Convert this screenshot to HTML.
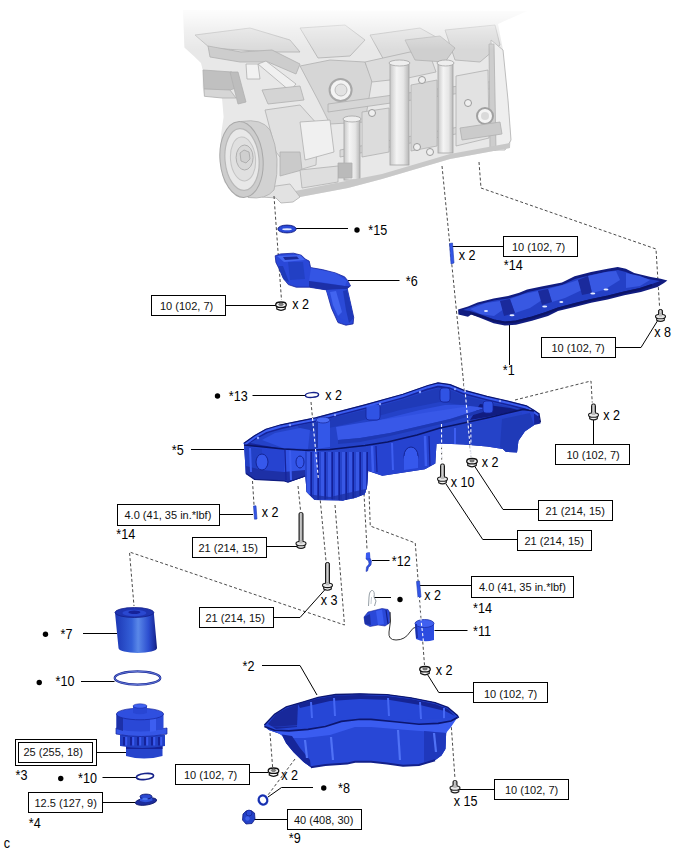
<!DOCTYPE html>
<html><head><meta charset="utf-8"><style>
html,body{margin:0;padding:0;background:#fff;}
body{width:688px;height:852px;overflow:hidden;}
svg{display:block;}
.bx{fill:#fff;stroke:#000;stroke-width:1;}
.bt{font-family:"Liberation Sans",sans-serif;font-size:11px;fill:#111;}
.lt{font-family:"Liberation Sans",sans-serif;font-size:14px;fill:#000;}
.ln{fill:none;stroke:#000;stroke-width:1;}
.ds{fill:none;stroke:#4a4a4a;stroke-width:1;stroke-dasharray:3 2.2;}
</style></head><body>
<svg width="688" height="852" viewBox="0 0 688 852">
<defs>
<linearGradient id="gshank" x1="0" x2="1" y1="0" y2="0"><stop offset="0" stop-color="#666"/><stop offset="0.45" stop-color="#d8d8d8"/><stop offset="1" stop-color="#6a6a6a"/></linearGradient>
<linearGradient id="gpil" x1="0" x2="1" y1="0" y2="0"><stop offset="0" stop-color="#c8c8c8"/><stop offset="0.35" stop-color="#f4f4f4"/><stop offset="0.7" stop-color="#e6e6e6"/><stop offset="1" stop-color="#b8b8b8"/></linearGradient>
<linearGradient id="gfade" x1="0" x2="0" y1="0" y2="1"><stop offset="0" stop-color="#fff" stop-opacity="0.95"/><stop offset="0.25" stop-color="#fff" stop-opacity="0.7"/><stop offset="0.55" stop-color="#fff" stop-opacity="0.35"/><stop offset="1" stop-color="#fff" stop-opacity="0"/></linearGradient>
<linearGradient id="gcyl" x1="0" x2="1" y1="0" y2="0"><stop offset="0" stop-color="#1c36b4"/><stop offset="0.4" stop-color="#3460d8"/><stop offset="0.55" stop-color="#5a88e8"/><stop offset="0.8" stop-color="#2c4ed0"/><stop offset="0.95" stop-color="#1a2c9c"/><stop offset="1" stop-color="#0c1670"/></linearGradient>
<linearGradient id="gblue" x1="0" x2="0" y1="0" y2="1"><stop offset="0" stop-color="#2f4fe0"/><stop offset="1" stop-color="#1a32b8"/></linearGradient>
</defs>

<g id="engine">
<path d="M183.0,10.0 L527.0,11.0 L498.0,24.0 L503.0,50.0 L508.0,100.0 L511.0,140.0 L510.0,148.0 L450.0,159.0 L382.0,179.0 L348.0,188.0 L300.0,197.0 L293.0,202.0 L281.0,203.0 L276.0,198.0 L262.0,197.0 L250.0,197.0 L235.0,192.0 L224.0,182.0 L220.0,160.0 L221.0,135.0 L223.6,117.0 L222.0,98.0 L204.4,96.3 L202.7,87.6 L202.7,70.0 L201.0,63.0 L194.0,56.2 L184.4,47.4 Z" fill="#e8e8e8" />
<path d="M195.0,35.0 L250.0,28.0 L290.0,40.0 L300.0,52.0 L272.0,52.0 L240.0,50.0 L210.0,48.0 Z" fill="#dadada" stroke="#b0b0b0" stroke-width="0.8"/>
<path d="M300.0,28.0 L345.0,25.0 L365.0,40.0 L350.0,56.0 L318.0,58.0 Z" fill="#dedede" stroke="#b0b0b0" stroke-width="0.8"/>
<path d="M370.0,35.0 L420.0,28.0 L445.0,42.0 L425.0,60.0 L385.0,62.0 Z" fill="#dcdcdc" stroke="#b0b0b0" stroke-width="0.8"/>
<path d="M445.0,30.0 L495.0,25.0 L500.0,45.0 L480.0,62.0 L455.0,60.0 Z" fill="#d8d8d8" stroke="#b0b0b0" stroke-width="0.8"/>
<path d="M208.0,46.0 L241.0,52.0 L272.0,50.0 L300.0,64.0 L296.0,74.0 L268.0,62.0 L240.0,62.0 L210.0,57.0 Z" fill="#cdcdcd" stroke="#b0b0b0" stroke-width="0.8"/>
<path d="M203.0,70.0 L232.0,72.0 L236.0,88.0 L230.0,90.0 L204.0,89.0 Z" fill="#c0c0c0" stroke="#b0b0b0" stroke-width="0.8"/>
<path d="M204.0,89.0 L230.0,90.0 L236.0,98.0 L222.0,98.0 L204.4,96.3 Z" fill="#d6d6d6" stroke="#b0b0b0" stroke-width="0.8"/>
<path d="M230.0,72.0 L238.0,72.0 L246.0,102.0 L238.0,104.0 Z" fill="#bdbdbd" stroke="#b0b0b0" stroke-width="0.8"/>
<path d="M246.0,64.0 L258.0,64.0 L260.0,79.0 L247.0,79.0 Z" fill="#f2f2f2" stroke="#b0b0b0" stroke-width="0.8"/>
<path d="M258.0,64.0 L266.0,61.0 L296.0,84.0 L290.0,91.0 Z" fill="#f0f0f0" stroke="#b0b0b0" stroke-width="0.8"/>
<path d="M262.0,90.0 L300.0,86.0 L304.0,100.0 L268.0,104.0 Z" fill="#d4d4d4" stroke="#b0b0b0" stroke-width="0.8"/>
<path d="M300.0,66.0 L330.0,60.0 L365.0,62.0 L372.0,80.0 L365.0,122.0 L330.0,124.0 L318.0,100.0 Z" fill="#d6d6d6" stroke="#b0b0b0" stroke-width="0.8"/>
<circle cx="340.6" cy="90" r="11" fill="#f3f3f3" stroke="#a8a8a8" stroke-width="2"/>
<circle cx="341" cy="90" r="6" fill="#e2e2e2" stroke="#bdbdbd" stroke-width="1"/>
<path d="M365.0,62.0 L410.0,52.0 L430.0,55.0 L436.0,72.0 L408.0,78.0 L372.0,82.0 Z" fill="#dcdcdc" stroke="#b0b0b0" stroke-width="0.8"/>
<path d="M405.0,40.0 L440.0,36.0 L455.0,48.0 L445.0,62.0 L415.0,60.0 Z" fill="#cfcfcf" stroke="#b0b0b0" stroke-width="0.8"/>
<path d="M328.0,104.0 L502.0,80.0 L503.0,87.0 L328.0,112.0 Z" fill="#d6d6d6" stroke="#b0b0b0" stroke-width="0.8"/>
<path d="M340.0,150.0 L505.0,118.0 L506.0,124.0 L340.0,157.0 Z" fill="#dadada" stroke="#b0b0b0" stroke-width="0.8"/>
<path d="M362.0,112.0 L389.0,108.0 L389.0,152.0 L362.0,157.0 Z" fill="#dcdcdc" stroke="#b0b0b0" stroke-width="0.8"/>
<path d="M411.0,85.0 L437.0,80.0 L437.0,146.0 L411.0,151.0 Z" fill="#d6d6d6" stroke="#b0b0b0" stroke-width="0.8"/>
<path d="M456.0,76.0 L488.0,70.0 L489.0,138.0 L456.0,146.0 Z" fill="#e2e2e2" stroke="#b0b0b0" stroke-width="0.8"/>
<rect x="344" y="119" width="16" height="61" fill="url(#gpil)" stroke="#a4a4a4" stroke-width="0.8"/>
<ellipse cx="352.0" cy="119" rx="9.0" ry="3" fill="#eeeeee" stroke="#a4a4a4" stroke-width="0.8"/>
<rect x="390" y="63" width="19" height="102" fill="url(#gpil)" stroke="#a4a4a4" stroke-width="0.8"/>
<ellipse cx="399.5" cy="63" rx="10.5" ry="3" fill="#eeeeee" stroke="#a4a4a4" stroke-width="0.8"/>
<rect x="438" y="63" width="15" height="90" fill="url(#gpil)" stroke="#a4a4a4" stroke-width="0.8"/>
<ellipse cx="445.5" cy="63" rx="8.5" ry="3" fill="#eeeeee" stroke="#a4a4a4" stroke-width="0.8"/>
<path d="M491.0,40.0 L503.0,50.0 L508.0,100.0 L511.0,140.0 L505.0,150.0 L493.0,150.0 Z" fill="#eeeeee" stroke="#b0b0b0" stroke-width="0.8"/>
<path d="M489.0,44.0 L494.0,44.0 L496.0,150.0 L490.0,150.0 Z" fill="#cdcdcd" stroke="#b0b0b0" stroke-width="0.8"/>
<circle cx="485" cy="116" r="8" fill="#f4f4f4" stroke="#a0a0a0" stroke-width="2"/>
<circle cx="485" cy="116" r="4" fill="#dadada"/>
<path d="M460.0,128.0 L500.0,122.0 L502.0,134.0 L462.0,140.0 Z" fill="#cbcbcb" stroke="#b0b0b0" stroke-width="0.8"/>
<circle cx="372" cy="113" r="3.5" fill="#efefef" stroke="#9a9a9a" stroke-width="1"/>
<circle cx="422" cy="80" r="3.5" fill="#efefef" stroke="#9a9a9a" stroke-width="1"/>
<circle cx="468" cy="103" r="3.5" fill="#efefef" stroke="#9a9a9a" stroke-width="1"/>
<circle cx="417" cy="147" r="3.5" fill="#efefef" stroke="#9a9a9a" stroke-width="1"/>
<circle cx="430" cy="152" r="3.5" fill="#efefef" stroke="#9a9a9a" stroke-width="1"/>
<circle cx="330" cy="178" r="3.5" fill="#efefef" stroke="#9a9a9a" stroke-width="1"/>
<path d="M265.0,110.0 L300.0,105.0 L318.0,125.0 L316.0,165.0 L292.0,172.0 L276.0,152.0 Z" fill="#e0e0e0" stroke="#b0b0b0" stroke-width="0.8"/>
<path d="M300.0,122.0 L330.0,120.0 L334.0,152.0 L305.0,160.0 Z" fill="#f0f0f0" stroke="#b0b0b0" stroke-width="0.8"/>
<path d="M280.0,152.0 L300.0,152.0 L302.0,170.0 L280.0,176.0 Z" fill="#cacaca" stroke="#b0b0b0" stroke-width="0.8"/>
<path d="M338.0,163.0 L352.0,163.0 L352.0,178.0 L338.0,178.0 Z" fill="#bababa" stroke="#b0b0b0" stroke-width="0.8"/>
<path d="M300.0,170.0 L338.0,166.0 L338.0,182.0 L302.0,188.0 Z" fill="#dedede" stroke="#b0b0b0" stroke-width="0.8"/>
<path d="M290.0,192.0 L382.0,174.0 L450.0,154.0 L510.0,143.0 L510.0,148.0 L450.0,159.0 L382.0,179.0 L348.0,188.0 L300.0,197.0 Z" fill="#c8c8c8" />
<path d="M262.0,188.0 L290.0,184.0 L300.0,197.0 L293.0,202.0 L281.0,203.0 L276.0,198.0 L262.0,197.0 Z" fill="#e2e2e2" stroke="#b0b0b0" stroke-width="0.8"/>
<path d="M241,121.5 Q262,118 270,130 Q282,158 274,190 Q266,200 248,197.5 Z" fill="#d2d2d2" stroke="#b0b0b0" stroke-width="0.8"/>
<ellipse cx="241.5" cy="159.5" rx="21.5" ry="38" fill="#cdcdcd" stroke="#a8a8a8" stroke-width="1" transform="rotate(-5 241.5 159.5)"/>
<ellipse cx="242" cy="159.5" rx="17" ry="31" fill="#e8e8e8" stroke="#b8b8b8" stroke-width="1.2" transform="rotate(-5 242 159.5)"/>
<ellipse cx="243" cy="159" rx="12.5" ry="22" fill="#e0e0e0" stroke="#c4c4c4" stroke-width="1" transform="rotate(-5 243 159)"/>
<ellipse cx="244.6" cy="157.5" rx="8.5" ry="12.5" fill="#d8d8d8" stroke="#b0b0b0" stroke-width="1"/>
<path d="M240,153 L244,150 L249,152 L250,159 L246,163 L241,161 Z" fill="#cfcfcf" stroke="#a4a4a4" stroke-width="0.8"/>
<rect x="170" y="0" width="370" height="9" fill="#fff"/>
<rect x="170" y="8" width="370" height="42" fill="url(#gfade)"/>
</g>
<path d="M274,196 L281.5,300" class="ds"/>
<path d="M442,166 L471,457" class="ds"/>
<path d="M479,162 L481,188 L656,249 L659.5,306" class="ds"/>
<path d="M311,402 L326,561" class="ds"/>
<path d="M252.5,481 L254,505" class="ds"/>
<path d="M441.5,441 L441.7,462" class="ds"/>
<path d="M298,486 L300.5,510" class="ds"/>
<path d="M335,505 L344.5,625 L129.5,552 L134,606" class="ds"/>
<path d="M364,493.5 L367,549" class="ds"/>
<path d="M369,491 L370.25,526 L415.25,543 L424.5,665" class="ds"/>
<path d="M515,400 L591,381 L592.25,402.5" class="ds"/>
<path d="M270,733 L272.6,767" class="ds"/>
<path d="M295,759 L268,795" class="ds"/>
<path d="M451,722 L455,779" class="ds"/>
<path d="M296,228.5 L348,228.5" class="ln"/>
<path d="M348,280.5 L399.5,280.5" class="ln"/>
<path d="M226,305.5 L277,305.5" class="ln"/>
<path d="M452,246.5 L503,246.5" class="ln"/>
<path d="M509.5,325 L509.5,365" class="ln"/>
<path d="M615,347.5 L641,347.5 L658,320" class="ln"/>
<path d="M252.5,395.5 L305,395.5" class="ln"/>
<path d="M191,449.5 L244,449.5" class="ln"/>
<path d="M593.5,419 L593.5,444" class="ln"/>
<path d="M446,484 L482.75,539.5 L517.5,539.5" class="ln"/>
<path d="M474.5,466 L503,509.5 L538,509.5" class="ln"/>
<path d="M219.5,514.5 L253,514.5" class="ln"/>
<path d="M266,546.5 L297.5,546.5" class="ln"/>
<path d="M372,560.5 L389.5,560.5" class="ln"/>
<path d="M374,597.5 L391,597.5" class="ln"/>
<path d="M419.5,585.5 L472,585.5" class="ln"/>
<path d="M434.5,630.5 L467.5,630.5" class="ln"/>
<path d="M325.75,588.75 L300,617.5 L274,617.5" class="ln"/>
<path d="M83,633.5 L117,633.5" class="ln"/>
<path d="M81,681.5 L114.5,681.5" class="ln"/>
<path d="M262,665.5 L300,665.5 L317,695" class="ln"/>
<path d="M427,673.75 L438.75,692.5 L473,692.5" class="ln"/>
<path d="M96.5,752.5 L126,752.5" class="ln"/>
<path d="M102.5,777.5 L136,777.5" class="ln"/>
<path d="M102.5,802.5 L135,802.5" class="ln"/>
<path d="M249.5,772.5 L268,772.5" class="ln"/>
<path d="M268,797 L281.5,787.5 L313,787.5" class="ln"/>
<path d="M252,819.5 L287.5,819.5" class="ln"/>
<path d="M457,789.5 L494,789.5" class="ln"/>
<rect x="151.5" y="295.5" width="74" height="20" class="bx"/>
<text x="160" y="309.5" class="bt">10 (102, 7)</text>
<rect x="503.5" y="236.5" width="74" height="20" class="bx"/>
<text x="512" y="251" class="bt">10 (102, 7)</text>
<rect x="541.5" y="337.5" width="74" height="20" class="bx"/>
<text x="551.5" y="352" class="bt">10 (102, 7)</text>
<rect x="555.5" y="444.5" width="74" height="20" class="bx"/>
<text x="566.5" y="459" class="bt">10 (102, 7)</text>
<rect x="538.5" y="500.5" width="74" height="20" class="bx"/>
<text x="545.5" y="514.5" class="bt">21 (214, 15)</text>
<rect x="517.5" y="530.5" width="74" height="20" class="bx"/>
<text x="524.5" y="544.5" class="bt">21 (214, 15)</text>
<rect x="117.5" y="504.5" width="102" height="21" class="bx"/>
<text x="124.5" y="519" class="bt">4.0 (41, 35 in.*lbf)</text>
<rect x="192.5" y="537.5" width="74" height="20" class="bx"/>
<text x="198.5" y="552" class="bt">21 (214, 15)</text>
<rect x="199.5" y="607.5" width="74" height="20" class="bx"/>
<text x="205.5" y="622" class="bt">21 (214, 15)</text>
<rect x="471.5" y="576.5" width="102" height="21" class="bx"/>
<text x="479" y="590.5" class="bt">4.0 (41, 35 in.*lbf)</text>
<rect x="473.5" y="682.5" width="74" height="20" class="bx"/>
<text x="484" y="697.5" class="bt">10 (102, 7)</text>
<rect x="15.5" y="739.5" width="81" height="26" class="bx"/>
<rect x="18.5" y="742.5" width="74" height="20" class="bx"/>
<text x="23.5" y="756" class="bt">25 (255, 18)</text>
<rect x="28.5" y="792.5" width="74" height="20" class="bx"/>
<text x="34.5" y="807" class="bt">12.5 (127, 9)</text>
<rect x="175.5" y="764.5" width="74" height="20" class="bx"/>
<text x="184" y="778.5" class="bt">10 (102, 7)</text>
<rect x="287.5" y="809.5" width="74" height="20" class="bx"/>
<text x="294" y="823.5" class="bt">40 (408, 30)</text>
<rect x="494.5" y="779.5" width="74" height="20" class="bx"/>
<text x="505" y="794" class="bt">10 (102, 7)</text>
<circle cx="357" cy="230" r="2.7" fill="#000"/>
<text transform="translate(368.3 235) scale(0.9 1)" class="lt">*15</text>
<text transform="translate(405.8 285.75) scale(0.9 1)" class="lt">*6</text>
<text transform="translate(292.3 309) scale(0.9 1)" class="lt">x 2</text>
<text transform="translate(458.8 259.5) scale(0.9 1)" class="lt">x 2</text>
<text transform="translate(503.8 270) scale(0.9 1)" class="lt">*14</text>
<text transform="translate(654.3 336.5) scale(0.9 1)" class="lt">x 8</text>
<text transform="translate(502.8 375) scale(0.9 1)" class="lt">*1</text>
<circle cx="217.5" cy="396" r="2.7" fill="#000"/>
<text transform="translate(228.8 400.5) scale(0.9 1)" class="lt">*13</text>
<text transform="translate(325.3 400) scale(0.9 1)" class="lt">x 2</text>
<text transform="translate(171.8 454.5) scale(0.9 1)" class="lt">*5</text>
<text transform="translate(603.3 420) scale(0.9 1)" class="lt">x 2</text>
<text transform="translate(481.8 467) scale(0.9 1)" class="lt">x 2</text>
<text transform="translate(450.8 486.5) scale(0.9 1)" class="lt">x 10</text>
<text transform="translate(261.8 517) scale(0.9 1)" class="lt">x 2</text>
<text transform="translate(116.3 538.5) scale(0.9 1)" class="lt">*14</text>
<text transform="translate(391.8 565.75) scale(0.9 1)" class="lt">*12</text>
<text transform="translate(320.8 604.5) scale(0.9 1)" class="lt">x 3</text>
<circle cx="400" cy="599.5" r="2.7" fill="#000"/>
<text transform="translate(424.3 599.5) scale(0.9 1)" class="lt">x 2</text>
<text transform="translate(473.05 612.5) scale(0.9 1)" class="lt">*14</text>
<circle cx="45.5" cy="634.25" r="2.7" fill="#000"/>
<text transform="translate(60.55 638.75) scale(0.9 1)" class="lt">*7</text>
<text transform="translate(473.05 636.25) scale(0.9 1)" class="lt">*11</text>
<text transform="translate(242.55 671.25) scale(0.9 1)" class="lt">*2</text>
<text transform="translate(435.8 675) scale(0.9 1)" class="lt">x 2</text>
<circle cx="39.25" cy="682.5" r="2.7" fill="#000"/>
<text transform="translate(55.55 686.25) scale(0.9 1)" class="lt">*10</text>
<text transform="translate(15.55 779.75) scale(0.9 1)" class="lt">*3</text>
<circle cx="60.75" cy="778.5" r="2.7" fill="#000"/>
<text transform="translate(78.05 782.75) scale(0.9 1)" class="lt">*10</text>
<text transform="translate(281.3 779.75) scale(0.9 1)" class="lt">x 2</text>
<circle cx="323.75" cy="788" r="2.7" fill="#000"/>
<text transform="translate(338.05 792.5) scale(0.9 1)" class="lt">*8</text>
<text transform="translate(453.8 806) scale(0.9 1)" class="lt">x 15</text>
<text transform="translate(28.8 828) scale(0.9 1)" class="lt">*4</text>
<text transform="translate(288.8 843.4) scale(0.9 1)" class="lt">*9</text>
<text transform="translate(3.8 848) scale(0.9 1)" class="lt">c</text>
<ellipse cx="287" cy="229" rx="9.2" ry="3.9" fill="#2a4ad8" stroke="#101a80" stroke-width="0.9"/>
<ellipse cx="287" cy="229.3" rx="4.8" ry="1" fill="#dfe6ff"/>
<path d="M275.2,255.8 L280.5,253.9 L293.5,253.2 L301.4,255.2 L305.3,259.1 L309.2,261.1 L310.6,267.6 L322.3,269.6 L335.4,272.9 L344.6,276.8 L347.8,280.7 L350.5,285.9 L347.2,288.6 L351.1,305.6 L353.7,317.3 L353.1,323.9 L345.9,325.2 L338.0,322.6 L331.5,308.2 L326.3,289.9 L309.2,287.2 L296.2,287.2 L288.3,284.6 L283.1,278.1 L279.8,270.2 L275.9,262.4 Z" fill="#2a48d8" stroke="#15229a" stroke-width="0.8"/>
<path d="M288.0,262.0 L303.0,262.0 L305.0,279.0 L290.0,280.0 Z" fill="#2240c4" />
<path d="M277.0,256.0 L300.0,255.0 L305.0,260.0 L284.0,262.0 Z" fill="#4466f0" />
<path d="M283.0,257.0 L297.0,256.5 L299.0,259.0 L285.0,260.0 Z" fill="#1a2a9a" />
<path d="M311.0,268.0 L335.0,273.0 L347.0,281.0 L345.0,286.0 L320.0,282.0 L309.0,281.0 Z" fill="#3455e4" />
<path d="M309.0,281.0 L345.0,286.0 L350.0,286.0 L347.0,289.0 L326.0,290.0 L309.0,287.0 Z" fill="#1c30a8" />
<path d="M326.0,290.0 L347.0,289.0 L351.0,305.0 L353.0,317.0 L349.0,322.0 L340.0,318.0 L332.0,306.0 Z" fill="#2b4ad8" />
<path d="M330.0,292.0 L336.0,291.0 L342.0,312.0 L338.0,316.0 L333.0,305.0 Z" fill="#4264f0" />
<path d="M343.0,291.0 L347.0,290.0 L351.0,306.0 L353.5,318.0 L349.0,323.0 L346.0,310.0 Z" fill="#1e38b8" />
<path d="M278.0,266.0 L283.0,266.0 L289.0,282.0 L284.0,280.0 Z" fill="#1f3ab8" />
<path d="M449.5,243.5 L452.5,243 L454,263 L451,264 Z" fill="#3356e8" stroke="#1e3ab0" stroke-width="0.6"/>
<path d="M458.1,309.6 L468.0,306.4 L477.6,302.4 L493.6,298.4 L508.0,296.0 L519.2,292.8 L527.1,289.6 L541.5,286.4 L562.0,282.4 L574.6,276.2 L591.1,272.1 L607.7,268.8 L617.7,267.1 L625.9,268.8 L634.2,272.9 L650.8,277.0 L660.7,278.7 L667.4,280.4 L664.0,282.9 L657.4,287.0 L640.9,292.0 L624.3,295.3 L607.7,299.4 L591.1,302.7 L574.6,306.9 L558.0,311.0 L548.0,316.0 L532.0,320.8 L516.0,324.8 L504.8,325.6 L493.6,323.2 L479.2,317.6 L471.2,314.4 L468.0,316.8 L458.4,314.4 Z" fill="#111c80" />
<path d="M463.0,310.0 L478.0,304.5 L494.0,300.5 L508.0,298.5 L520.0,295.0 L528.0,292.0 L542.0,289.0 L562.0,285.0 L575.0,279.0 L591.0,275.0 L608.0,271.5 L618.0,270.0 L626.0,272.0 L634.0,275.5 L651.0,279.5 L660.0,281.0 L652.0,284.0 L640.0,288.0 L624.0,291.5 L608.0,295.5 L591.0,299.0 L575.0,303.0 L558.0,307.5 L546.0,312.0 L532.0,316.5 L516.0,320.5 L505.0,321.5 L494.0,319.5 L480.0,314.0 L470.0,311.0 Z" fill="#2440c6" />
<path d="M470.0,309.0 L486.0,303.0 L500.0,301.0 L504.0,309.0 L494.0,316.0 L480.0,314.0 Z" fill="#3858e2" />
<path d="M510.0,299.0 L524.0,294.0 L538.0,291.0 L542.0,300.0 L530.0,308.0 L515.0,313.0 Z" fill="#3858e2" />
<path d="M548.0,289.0 L566.0,284.0 L578.0,280.0 L582.0,290.0 L565.0,298.0 L552.0,302.0 Z" fill="#3858e2" />
<path d="M588.0,276.0 L606.0,272.0 L616.0,271.0 L620.0,280.0 L604.0,290.0 L592.0,293.0 Z" fill="#3858e2" />
<path d="M626.0,273.0 L640.0,276.0 L650.0,280.0 L640.0,286.0 L626.0,288.0 Z" fill="#3858e2" />
<path d="M500.0,301.0 L510.0,299.0 L515.0,313.0 L504.0,316.0 Z" fill="#1a2a9c" />
<path d="M538.0,291.0 L548.0,289.0 L552.0,302.0 L542.0,305.0 Z" fill="#1a2a9c" />
<path d="M578.0,280.0 L588.0,276.0 L592.0,293.0 L582.0,295.0 Z" fill="#1a2a9c" />
<path d="M470,313 L494,320.5 L505,322.5 L516,321.5 L532,317.5 L546,313 L558,308.5 L575,304 L591,300 L608,296.5 L624,292.5 L640,289 L652,285" stroke="#0c1466" stroke-width="2" fill="none"/>
<ellipse cx="512" cy="315.2" rx="2.5" ry="1" fill="#e6ecff"/>
<ellipse cx="544.7" cy="306.4" rx="2.5" ry="1" fill="#e6ecff"/>
<ellipse cx="592.8" cy="293.6" rx="2.5" ry="1" fill="#e6ecff"/>
<ellipse cx="606" cy="289.5" rx="2.5" ry="1" fill="#e6ecff"/>
<ellipse cx="561.3" cy="301.9" rx="2.0" ry="1" fill="#e6ecff"/>
<ellipse cx="486" cy="311" rx="2.0" ry="1" fill="#e6ecff"/>
<path d="M244.0,444.5 L254.5,437.0 L266.0,430.5 L281.0,426.0 L298.0,422.5 L315.5,419.0 L340.0,412.5 L365.0,406.0 L403.0,395.5 L428.0,386.7 L438.0,384.0 L450.0,385.8 L463.5,391.3 L487.0,397.6 L510.6,403.0 L526.3,407.0 L534.2,411.8 L539.0,415.0 L540.5,423.5 L534.2,425.0 L524.8,431.4 L518.5,440.8 L517.0,452.6 L506.0,451.8 L502.8,449.0 L499.7,448.5 L487.0,446.5 L463.5,444.5 L440.0,443.5 L436.5,444.0 L435.3,463.4 L424.9,469.2 L382.3,475.7 L368.2,471.0 L367.0,487.0 L364.7,494.3 L342.7,500.5 L314.7,500.0 L306.6,492.0 L305.4,476.4 L288.0,482.2 L283.6,480.8 L254.5,479.3 L245.8,473.5 Z" fill="#15249a" />
<path d="M250.0,443.0 L258.0,438.0 L268.0,433.0 L282.0,429.0 L298.0,425.5 L316.0,422.0 L340.0,415.5 L365.0,409.0 L403.0,398.5 L428.0,390.0 L438.0,387.5 L450.0,389.0 L463.0,394.5 L487.0,400.5 L510.0,406.0 L528.0,411.0 L523.0,409.4 L487.0,418.0 L450.0,426.0 L440.0,428.0 L417.0,435.0 L387.6,442.0 L365.0,445.5 L330.0,449.5 L305.4,450.2 L283.6,449.0 Z" fill="#2442c8" />
<path d="M298.0,426.0 L340.0,416.0 L365.0,410.0 L403.0,399.5 L428.0,391.0 L438.0,388.5 L450.0,390.0 L463.0,395.5 L487.0,401.5 L510.0,407.0 L526.0,411.5 L500.0,411.0 L470.0,406.0 L440.0,402.0 L400.0,410.0 L360.0,421.0 L320.0,430.0 L300.0,432.0 Z" fill="#1f3ab8" />
<path d="M480.0,404.0 L510.0,408.0 L526.0,412.0 L523.0,409.4 L487.0,417.0 L470.0,420.0 Z" fill="#111c80" />
<path d="M345.0,428.0 L380.0,420.0 L420.0,410.0 L445.0,405.0 L465.0,405.0 L470.0,410.0 L440.0,416.0 L400.0,425.0 L360.0,434.0 L340.0,436.0 Z" fill="#3050e0" />
<path d="M262.0,440.0 L275.0,433.0 L300.0,428.0 L310.0,430.0 L308.0,449.0 L283.0,448.0 Z" fill="#2f50e0" />
<path d="M336.0,427.0 L360.0,423.0 L400.0,417.0 L430.0,412.0 L450.0,409.0 L470.0,406.0 L485.0,408.0 L450.0,419.0 L420.0,426.0 L390.0,433.0 L360.0,438.0 L338.0,440.0 Z" fill="#3858e8" />
<path d="M338.0,440.0 L360.0,438.0 L390.0,433.0 L420.0,426.0 L450.0,419.0 L485.0,408.0 L490.0,410.0 L450.0,422.0 L420.0,429.0 L390.0,436.0 L360.0,442.0 L338.0,444.0 Z" fill="#1e38b4" />
<rect x="366" y="404" width="14" height="16" rx="3" fill="#3053e4" stroke="#15249a" stroke-width="0.8"/>
<rect x="440" y="388" width="10" height="14" rx="3" fill="#3053e4" stroke="#15249a" stroke-width="0.8"/>
<rect x="483" y="401" width="10" height="12" rx="3" fill="#3053e4" stroke="#15249a" stroke-width="0.8"/>
<path d="M244,444.5 L254.5,437 L266,430.5 L281,426 L298,422.5 L315.5,419 L340,412.5 L365,406 L403,395.5 L428,386.7 L438,384 L450,385.8 L463.5,391.3 L487,397.6 L510.6,403 L526.3,407 L534.2,411.8 L539,415" stroke="#3a5cf0" stroke-width="3" fill="none"/>
<path d="M244,443.3 L254.5,435.8 L266,429.3 L281,424.8 L298,421.3 L315.5,417.8 L340,411.3 L365,404.8 L403,394.3 L428,385.5 L438,382.8 L450,384.6 L463.5,390.1 L487,396.40000000000003 L510.6,401.8 L526.3,405.8 L534.2,410.6 L539,413.8 L540.5,422.3" stroke="#0c1670" stroke-width="1.2" fill="none"/>
<circle cx="258" cy="438" r="1.2" fill="#8aa0ff"/>
<circle cx="290" cy="425" r="1.2" fill="#8aa0ff"/>
<circle cx="335" cy="415" r="1.2" fill="#8aa0ff"/>
<circle cx="380" cy="404" r="1.2" fill="#8aa0ff"/>
<circle cx="420" cy="392" r="1.2" fill="#8aa0ff"/>
<circle cx="455" cy="389" r="1.2" fill="#8aa0ff"/>
<circle cx="500" cy="401" r="1.2" fill="#8aa0ff"/>
<circle cx="530" cy="410" r="1.2" fill="#8aa0ff"/>
<path d="M244.0,445.0 L283.6,449.0 L305.4,450.2 L330.0,449.5 L365.0,445.5 L387.6,442.0 L417.0,435.0 L440.0,428.0 L450.0,426.0 L487.0,418.0 L523.0,409.4 L534.0,411.0 L534.2,425.0 L524.8,431.4 L518.5,440.8 L517.0,452.6 L506.0,451.8 L502.8,449.0 L499.7,448.5 L487.0,446.5 L463.5,444.5 L440.0,443.5 L436.5,444.0 L435.3,463.4 L424.9,469.2 L382.3,475.7 L368.2,471.0 L367.0,487.0 L364.7,494.3 L342.7,500.5 L314.7,500.0 L306.6,492.0 L305.4,476.4 L288.0,482.2 L283.6,480.8 L254.5,479.3 L245.8,473.5 Z" fill="#2643d0" />
<path d="M245.0,447.0 L262.0,449.0 L262.0,478.0 L246.0,473.0 Z" fill="#2240c4" />
<path d="M285.0,449.0 L305.0,450.0 L305.0,476.0 L288.0,482.0 L284.0,480.0 Z" fill="#3254e6" />
<path d="M440.0,428.0 L500.0,418.0 L522.0,412.0 L520.0,425.0 L500.0,447.0 L463.0,444.0 L440.0,443.0 Z" fill="#2543c8" />
<path d="M502.0,419.0 L530.0,413.0 L534.0,425.0 L525.0,431.0 L518.0,441.0 L517.0,452.0 L506.0,452.0 L503.0,449.0 L500.0,447.0 Z" fill="#1f3ab8" />
<clipPath id="sumpc"><path d="M305,452 L368,446 L368,471 L367,487 L364.7,494.3 L355,498 L342.7,500.5 L330,499 L314.7,500 L306.6,492 L305.4,476.4 Z"/></clipPath>
<path d="M305,452 L368,446 L368,471 L367,487 L364.7,494.3 L355,498 L342.7,500.5 L330,499 L314.7,500 L306.6,492 L305.4,476.4 Z" fill="#2644cc"/>
<g clip-path="url(#sumpc)">
<rect x="307" y="452" width="3" height="50" fill="#3858e6"/>
<rect x="310.5" y="452" width="1.5" height="50" fill="#13209a"/>
<rect x="314" y="452" width="3" height="50" fill="#3858e6"/>
<rect x="317.5" y="452" width="1.5" height="50" fill="#13209a"/>
<rect x="321" y="452" width="3" height="50" fill="#3858e6"/>
<rect x="324.5" y="452" width="1.5" height="50" fill="#13209a"/>
<rect x="328" y="452" width="3" height="50" fill="#3858e6"/>
<rect x="331.5" y="452" width="1.5" height="50" fill="#13209a"/>
<rect x="335" y="452" width="3" height="50" fill="#3858e6"/>
<rect x="338.5" y="452" width="1.5" height="50" fill="#13209a"/>
<rect x="342" y="452" width="3" height="50" fill="#3858e6"/>
<rect x="345.5" y="452" width="1.5" height="50" fill="#13209a"/>
<rect x="349" y="452" width="3" height="50" fill="#3858e6"/>
<rect x="352.5" y="452" width="1.5" height="50" fill="#13209a"/>
<rect x="356" y="452" width="3" height="50" fill="#3858e6"/>
<rect x="359.5" y="452" width="1.5" height="50" fill="#13209a"/>
<rect x="363" y="452" width="3" height="50" fill="#3858e6"/>
<rect x="366.5" y="452" width="1.5" height="50" fill="#13209a"/>
<path d="M300,493 L330,497 L370,488 L370,510 L300,510 Z" fill="#1a2c9c" opacity="0.7"/>
</g>
<path d="M246.0,466.0 L262.0,470.0 L283.6,472.0 L305.0,470.0 L305.4,476.4 L288.0,482.2 L283.6,480.8 L254.5,479.3 L245.8,473.5 Z" fill="#1d30a6" />
<path d="M316,421 L316,449 L330,447 L330,419 Z" fill="#3357e8"/>
<ellipse cx="323" cy="420" rx="7" ry="3" fill="#4a6cf5" stroke="#1a2ca0" stroke-width="0.8"/>
<path d="M317,422 L317,448" stroke="#1a2ca0" stroke-width="1.5"/>
<path d="M372,446 L373,472" stroke="#3d5ef0" stroke-width="2.5" fill="none"/>
<path d="M376,446 L377,472" stroke="#15229a" stroke-width="1.2" fill="none"/>
<path d="M392,443 L393,470" stroke="#3d5ef0" stroke-width="2" fill="none"/>
<path d="M425,436 L426,466" stroke="#3d5ef0" stroke-width="2.5" fill="none"/>
<path d="M429,436 L430,466" stroke="#15229a" stroke-width="1.2" fill="none"/>
<path d="M455,428 L455,444" stroke="#3d5ef0" stroke-width="2" fill="none"/>
<path d="M470,424 L470,445" stroke="#15229a" stroke-width="1.2" fill="none"/>
<path d="M250,448 L251,472" stroke="#3d5ef0" stroke-width="2" fill="none"/>
<path d="M285,450 L286,480" stroke="#15229a" stroke-width="1.2" fill="none"/>
<path d="M290,450 L291,480" stroke="#3d5ef0" stroke-width="2" fill="none"/>
<ellipse cx="262" cy="462" rx="6" ry="8" fill="#3658ec" stroke="#142494" stroke-width="1"/>
<ellipse cx="300" cy="462" rx="4" ry="6" fill="#3658ec" stroke="#142494" stroke-width="1"/>
<ellipse cx="411" cy="456" rx="7" ry="9" fill="#3658ec" stroke="#142494" stroke-width="1"/>
<path d="M404,456 L404,470 L418,468 L418,456" fill="#3658ec"/>
<path d="M244,445 L283.6,449 L305.4,450.2 L330,449.5 L365,445.5 L387.6,442 L417,435 L440,428 L450,426 L487,418 L523,409.4 L534,411" stroke="#0a1466" stroke-width="1.6" fill="none"/>
<path d="M246,473.5 L254.5,479.3 L283.6,480.8 L288,482.2 L305,476" stroke="#0f1c80" stroke-width="1.2" fill="none"/>
<path d="M253.5,506 L256,505.8 L257,519 L254.5,519.2 Z" fill="#3356e8" stroke="#1e3ab0" stroke-width="0.6"/>
<path d="M416.5,581.5 L419.5,581 L421,597 L418,597.5 Z" fill="#3356e8" stroke="#1e3ab0" stroke-width="0.6"/>
<path d="M366.5,553 L369.5,552.5 L370,558 L371.5,561 L371,565 L368.5,567.5 L367.5,571 L366,571.5 L366.5,567 L369,564 L368.5,561 L366,559 Z" fill="#2f50e0" stroke="#1a2ea8" stroke-width="0.5"/>
<rect x="366" y="553" width="4" height="5" fill="#3a5af0"/>
<path d="M368.5,606 L369,597 Q369.5,590 372.5,590.5 Q375,591.5 374,597 L376,601 L374.5,606" fill="none" stroke="#8a949c" stroke-width="0.9"/>
<path d="M371,604 L371.5,597" fill="none" stroke="#b4bcc4" stroke-width="0.8"/>
<path d="M364.0,617.0 L368.0,612.0 L376.0,610.0 L382.0,608.5 L388.0,609.5 L390.0,613.0 L389.5,623.0 L385.0,626.0 L378.0,625.0 L370.0,626.5 L365.0,624.0 Z" fill="#2a48d8" stroke="#15229a" stroke-width="0.6"/>
<path d="M364.0,617.0 L370.0,614.0 L371.0,625.0 L365.0,624.0 Z" fill="#1c30a8" />
<path d="M376.0,611.0 L382.0,609.5 L384.0,624.0 L378.0,625.0 Z" fill="#3a5cf0" />
<path d="M386,610 L388,624" stroke="#14208a" stroke-width="1.2"/>
<path d="M390,612 Q391.5,620 389,632 Q388,640 396,640 Q405,640 410,632 Q413,627 416.5,627" fill="none" stroke="#333" stroke-width="1"/>
<path d="M415,624 L416,639 Q424,643 434,640 L434,624 Z" fill="#2c4ce0"/>
<ellipse cx="424.5" cy="623.5" rx="9.5" ry="4" fill="#4060f0" stroke="#1a30a8" stroke-width="0.8"/>
<path d="M416,624 L417,638" stroke="#1a30a8" stroke-width="2"/>
<path d="M115,612.5 L118.5,648 A19.2,5 0 0 0 157,648 L153.8,612.5 Z" fill="url(#gcyl)"/>
<ellipse cx="134.4" cy="612.5" rx="19.4" ry="5" fill="#1e34b0" stroke="#14208a" stroke-width="0.8"/>
<ellipse cx="134.4" cy="613" rx="12" ry="3.2" fill="#2a48d0"/>
<ellipse cx="134.4" cy="612.2" rx="6" ry="1.8" fill="#15229a"/>
<ellipse cx="137.5" cy="678" rx="22.8" ry="6.6" fill="none" stroke="#1c2c98" stroke-width="2.2"/>
<ellipse cx="137.5" cy="678" rx="22.8" ry="6.6" fill="none" stroke="#8fa4ff" stroke-width="0.6"/>
<path d="M126,745 L126,756 Q144,761 162.5,756 L162.5,745 Z" fill="#2644cc"/>
<path d="M126,746 L162.5,746 L162.5,749 L126,749 Z" fill="#15229a"/>
<path d="M120,735 L120,746 Q142,750 165,746 L165,735 Z" fill="#2240c4"/>
<rect x="123" y="737" width="2.2" height="8.5" fill="#15229a"/>
<rect x="125.2" y="737" width="2" height="8.5" fill="#3a5af0"/>
<rect x="130" y="737" width="2.2" height="8.5" fill="#15229a"/>
<rect x="132.2" y="737" width="2" height="8.5" fill="#3a5af0"/>
<rect x="137" y="737" width="2.2" height="8.5" fill="#15229a"/>
<rect x="139.2" y="737" width="2" height="8.5" fill="#3a5af0"/>
<rect x="144" y="737" width="2.2" height="8.5" fill="#15229a"/>
<rect x="146.2" y="737" width="2" height="8.5" fill="#3a5af0"/>
<rect x="151" y="737" width="2.2" height="8.5" fill="#15229a"/>
<rect x="153.2" y="737" width="2" height="8.5" fill="#3a5af0"/>
<rect x="158" y="737" width="2.2" height="8.5" fill="#15229a"/>
<rect x="160.2" y="737" width="2" height="8.5" fill="#3a5af0"/>
<path d="M116,728 L116,734 Q141,739 167,734 L167,728 Q141,733 116,728 Z" fill="#3556e6" stroke="#16249a" stroke-width="0.7"/>
<path d="M116.5,714 L116.5,729 Q141,734 163.5,729 L163.5,714 Z" fill="#2a48d6"/>
<path d="M116.5,714 L116.5,729 Q120,730 123,731 L123,716 Z" fill="#1c30a8"/>
<path d="M150,717 L150,732 L156,731 L156,716 Z" fill="#3d5ef0"/>
<ellipse cx="140" cy="714" rx="23.5" ry="5.8" fill="#2f4fe0" stroke="#16249a" stroke-width="0.7"/>
<path d="M133,706 L133,713 Q140,715.5 147,713 L147,706 Z" fill="#2846d4"/>
<ellipse cx="140" cy="706" rx="7" ry="2.2" fill="#4062f0" stroke="#16249a" stroke-width="0.5"/>
<ellipse cx="145" cy="776.5" rx="8.6" ry="3" fill="none" stroke="#16228a" stroke-width="1.6" transform="rotate(-6 145 776.5)"/>
<ellipse cx="146" cy="801.5" rx="10.8" ry="3.6" fill="#1c2c9c" stroke="#0c1466" stroke-width="0.8" transform="rotate(-8 146 801.5)"/>
<path d="M140,797 L140,801 Q146,803.5 152.5,800.5 L152,796.5 Z" fill="#2f52dc"/>
<ellipse cx="146" cy="796.5" rx="6" ry="2.4" fill="#2a48d0" stroke="#0c1466" stroke-width="0.8"/>
<ellipse cx="145" cy="799" rx="3" ry="1.2" fill="#4a74ec"/>
<path d="M264.4,725.0 L274.5,714.2 L286.2,706.9 L303.6,701.8 L318.1,697.4 L335.6,694.5 L360.0,693.8 L387.0,694.6 L411.0,697.8 L435.0,702.6 L447.8,707.4 L457.4,715.4 L458.7,717.8 L451.0,721.8 L447.8,726.6 L446.2,733.0 L445.4,749.0 L441.4,755.4 L435.0,760.2 L419.0,765.0 L403.0,765.8 L387.0,763.4 L371.0,761.8 L355.0,761.8 L347.2,763.6 L325.4,765.0 L310.9,767.2 L303.6,762.1 L293.4,752.0 L286.2,743.2 L281.8,734.5 L268.7,730.0 Z" fill="#1c30a8" />
<path d="M264.4,725.0 L274.5,714.2 L286.2,706.9 L303.6,701.8 L318.1,697.4 L335.6,694.5 L360.0,693.8 L387.0,694.6 L411.0,697.8 L435.0,702.6 L447.8,707.4 L457.4,715.4 L458.7,717.8 L457.4,717.5 L451.0,721.0 L438.2,723.4 L419.0,724.2 L395.0,721.8 L371.0,719.4 L360.0,719.2 L341.4,721.4 L325.4,726.5 L308.0,729.4 L289.0,730.9 L274.5,730.2 L264.4,726.5 Z" fill="#2646d6" />
<path d="M268.0,724.0 L276.0,714.0 L287.0,708.0 L298.0,704.0 L297.0,727.0 L276.0,729.0 Z" fill="#18289a" />
<path d="M298.0,704.0 L318.0,698.5 L336.0,695.5 L360.0,695.0 L387.0,696.0 L411.0,699.0 L435.0,704.0 L448.0,709.0 L455.0,716.0 L445.0,711.0 L420.0,705.0 L390.0,700.0 L360.0,699.0 L330.0,701.0 L300.0,708.0 Z" fill="#152494" />
<path d="M311,702 L312,718" stroke="#4668f4" stroke-width="2" fill="none"/>
<path d="M334,698 L335,716" stroke="#4668f4" stroke-width="2" fill="none"/>
<path d="M388,698 L389,716" stroke="#4668f4" stroke-width="2" fill="none"/>
<path d="M420,702 L421,719" stroke="#4668f4" stroke-width="2" fill="none"/>
<path d="M444,708 L444,721" stroke="#4668f4" stroke-width="2" fill="none"/>
<path d="M457.4,717.5 L451.0,721.0 L438.2,723.4 L419.0,724.2 L395.0,721.8 L371.0,719.4 L360.0,719.2 L341.4,721.4 L325.4,726.5 L308.0,729.4 L289.0,730.9 L274.5,730.2 L264.4,726.5 L264.4,726.5 L268.7,730.0 L281.8,734.5 L286.2,743.2 L293.4,752.0 L303.6,762.1 L310.9,767.2 L325.4,765.0 L347.2,763.6 L355.0,761.8 L371.0,761.8 L387.0,763.4 L403.0,765.8 L419.0,765.0 L435.0,760.2 L441.4,755.4 L445.4,749.0 L446.2,733.0 L447.8,726.6 L451.0,721.8 L264.4,727.0 Z" fill="#2847d6" />
<path d="M274.5,730.2 L289.0,730.9 L308.0,729.4 L325.4,726.5 L341.4,721.4 L360.0,719.2 L371.0,719.4 L395.0,721.8 L419.0,724.2 L438.2,723.4 L451.0,721.0 L457.4,717.5 L451.0,727.0 L446.0,733.0 L420.0,731.0 L395.0,729.0 L371.0,727.0 L355.0,727.0 L330.0,735.0 L305.0,738.0 L285.0,738.0 Z" fill="#3a5cf0" />
<path d="M281.8,734.5 L292.0,736.0 L300.0,748.0 L310.0,760.0 L310.9,767.2 L303.6,762.1 L293.4,752.0 L286.2,743.2 Z" fill="#16269a" />
<path d="M424.0,731.0 L446.0,733.0 L445.4,749.0 L441.4,755.4 L435.0,760.2 L424.0,762.0 Z" fill="#1f38bc" />
<path d="M331,737 L333,760" stroke="#5072f6" stroke-width="2.2" fill="none"/>
<path d="M398,730 L400,760" stroke="#5072f6" stroke-width="2.2" fill="none"/>
<path d="M434,733 L436,752" stroke="#5072f6" stroke-width="2.2" fill="none"/>
<path d="M305,740 L307,758" stroke="#5072f6" stroke-width="2.2" fill="none"/>
<path d="M310.9,767.2 L325.4,765 L347.2,763.6 L355,761.8 L371,761.8 L387,763.4 L403,765.8 L419,765 L435,760.2" stroke="#13208a" stroke-width="2" fill="none"/>
<path d="M264.4,726.5 L274.5,730.2 L289,730.9 L308,729.4 L325.4,726.5 L341.4,721.4 L360,719.2 L371,719.4 L395,721.8 L419,724.2 L438.2,723.4 L451,721 L457.4,717.5" stroke="#0c1670" stroke-width="1.6" fill="none"/>
<path d="M264.4,725 L274.5,714.2 L286.2,706.9 L303.6,701.8 L318.1,697.4 L335.6,694.5 L360,693.8 L387,694.6 L411,697.8 L435,702.6 L447.8,707.4 L457.4,715.4 L458.7,717.8" stroke="#0c1670" stroke-width="1.3" fill="none"/>
<ellipse cx="263" cy="800" rx="4.2" ry="4.6" fill="none" stroke="#2040c8" stroke-width="2.4" transform="rotate(-30 263 800)"/>
<ellipse cx="263" cy="800" rx="4.2" ry="4.6" fill="none" stroke="#14208a" stroke-width="0.7" transform="rotate(-30 263 800)"/>
<path d="M243,814 L246,811 L251,810.5 L254.5,813 L255,819 L252,823.5 L246,824 L242.5,820 Z" fill="#2442c8" stroke="#101a80" stroke-width="0.8"/>
<circle cx="249" cy="813" r="3" fill="#2c4ad4" stroke="#101a80" stroke-width="0.6"/>
<circle cx="247.5" cy="818.5" r="2.2" fill="#4060e8"/>
<path d="M464.5,384 L471,457" fill="none" stroke="#f4f6ff" stroke-width="1.1" stroke-dasharray="3 2.2"/>
<path d="M312.5,418 L318.5,480" fill="none" stroke="#f4f6ff" stroke-width="1.1" stroke-dasharray="3 2.2"/>
<path d="M441.5,424 L441.7,462" fill="none" stroke="#f4f6ff" stroke-width="1.1" stroke-dasharray="3 2.2"/>
<path d="M470.8,424 L471,457" fill="none" stroke="#f4f6ff" stroke-width="1.1" stroke-dasharray="3 2.2"/>
<path d="M418.5,597 L423.5,642" fill="none" stroke="#f4f6ff" stroke-width="1.1" stroke-dasharray="3 2.2"/>
<ellipse cx="312" cy="395" rx="6.6" ry="2.4" fill="none" stroke="#16228a" stroke-width="1.4" transform="rotate(-4 312 395)"/>
<g class="nut"><path d="M276.8,306.0 L276.8,309.1 Q281,311.5 285.2,309.1 L285.2,306.0 Z" fill="#fafafa" stroke="#111" stroke-width="1.2"/><ellipse cx="281" cy="304.7" rx="5.3" ry="2.7" fill="#f2f2f2" stroke="#111" stroke-width="1.3"/><ellipse cx="281" cy="304.4" rx="2.3" ry="1.1" fill="#888" stroke="#333" stroke-width="0.5"/></g>
<g class="bolt"><rect x="658.5" y="309.5" width="4" height="7.0" rx="1.6" fill="url(#gshank)" stroke="#1a1a1a" stroke-width="1"/><path d="M656.7,317.0 L656.7,320.3 Q660.5,322.5 664.3,320.3 L664.3,317.0 Z" fill="#f4f4f4" stroke="#1a1a1a" stroke-width="1.1"/><ellipse cx="660.5" cy="316.5" rx="5" ry="2.3" fill="#e8e8e8" stroke="#1a1a1a" stroke-width="1.1"/><rect x="658.9" y="313.5" width="3.2" height="3" fill="#bbb"/></g>
<g class="bolt"><rect x="591.5" y="404" width="4" height="11" rx="1.6" fill="url(#gshank)" stroke="#1a1a1a" stroke-width="1"/><path d="M589.7,415.5 L589.7,418.8 Q593.5,421 597.3,418.8 L597.3,415.5 Z" fill="#f4f4f4" stroke="#1a1a1a" stroke-width="1.1"/><ellipse cx="593.5" cy="415" rx="5" ry="2.3" fill="#e8e8e8" stroke="#1a1a1a" stroke-width="1.1"/><rect x="591.9" y="412" width="3.2" height="3" fill="#bbb"/></g>
<g class="nut"><path d="M467.8,462.5 L467.8,465.6 Q472,468 476.2,465.6 L476.2,462.5 Z" fill="#fafafa" stroke="#111" stroke-width="1.2"/><ellipse cx="472" cy="461.2" rx="5.3" ry="2.7" fill="#f2f2f2" stroke="#111" stroke-width="1.3"/><ellipse cx="472" cy="460.9" rx="2.3" ry="1.1" fill="#888" stroke="#333" stroke-width="0.5"/></g>
<g class="bolt"><rect x="440.5" y="464" width="4" height="15" rx="1.6" fill="url(#gshank)" stroke="#1a1a1a" stroke-width="1"/><path d="M438.7,479.5 L438.7,482.8 Q442.5,485 446.3,482.8 L446.3,479.5 Z" fill="#f4f4f4" stroke="#1a1a1a" stroke-width="1.1"/><ellipse cx="442.5" cy="479" rx="5" ry="2.3" fill="#e8e8e8" stroke="#1a1a1a" stroke-width="1.1"/><rect x="440.9" y="476" width="3.2" height="3" fill="#bbb"/></g>
<g class="bolt"><rect x="299" y="512.5" width="4" height="31.0" rx="1.6" fill="url(#gshank)" stroke="#1a1a1a" stroke-width="1"/><path d="M297.2,544.0 L297.2,547.3 Q301,549.5 304.8,547.3 L304.8,544.0 Z" fill="#f4f4f4" stroke="#1a1a1a" stroke-width="1.1"/><ellipse cx="301" cy="543.5" rx="5" ry="2.3" fill="#e8e8e8" stroke="#1a1a1a" stroke-width="1.1"/><rect x="299.4" y="540.5" width="3.2" height="3" fill="#bbb"/></g>
<g class="bolt"><rect x="325.5" y="562.5" width="4" height="22.799999999999955" rx="1.6" fill="url(#gshank)" stroke="#1a1a1a" stroke-width="1"/><path d="M323.7,585.8 L323.7,589.0999999999999 Q327.5,591.3 331.3,589.0999999999999 L331.3,585.8 Z" fill="#f4f4f4" stroke="#1a1a1a" stroke-width="1.1"/><ellipse cx="327.5" cy="585.3" rx="5" ry="2.3" fill="#e8e8e8" stroke="#1a1a1a" stroke-width="1.1"/><rect x="325.9" y="582.3" width="3.2" height="3" fill="#bbb"/></g>
<g class="nut"><path d="M420.8,670.5 L420.8,673.6 Q425,676 429.2,673.6 L429.2,670.5 Z" fill="#fafafa" stroke="#111" stroke-width="1.2"/><ellipse cx="425" cy="669.2" rx="5.3" ry="2.7" fill="#f2f2f2" stroke="#111" stroke-width="1.3"/><ellipse cx="425" cy="668.9" rx="2.3" ry="1.1" fill="#888" stroke="#333" stroke-width="0.5"/></g>
<g class="nut"><path d="M269.3,772.0 L269.3,775.1 Q273.5,777.5 277.7,775.1 L277.7,772.0 Z" fill="#fafafa" stroke="#111" stroke-width="1.2"/><ellipse cx="273.5" cy="770.7" rx="5.3" ry="2.7" fill="#f2f2f2" stroke="#111" stroke-width="1.3"/><ellipse cx="273.5" cy="770.4" rx="2.3" ry="1.1" fill="#888" stroke="#333" stroke-width="0.5"/></g>
<g class="bolt"><rect x="453" y="780.5" width="4" height="7.5" rx="1.6" fill="url(#gshank)" stroke="#1a1a1a" stroke-width="1"/><path d="M451.2,788.5 L451.2,791.8 Q455,794 458.8,791.8 L458.8,788.5 Z" fill="#f4f4f4" stroke="#1a1a1a" stroke-width="1.1"/><ellipse cx="455" cy="788" rx="5" ry="2.3" fill="#e8e8e8" stroke="#1a1a1a" stroke-width="1.1"/><rect x="453.4" y="785" width="3.2" height="3" fill="#bbb"/></g>
</svg></body></html>
